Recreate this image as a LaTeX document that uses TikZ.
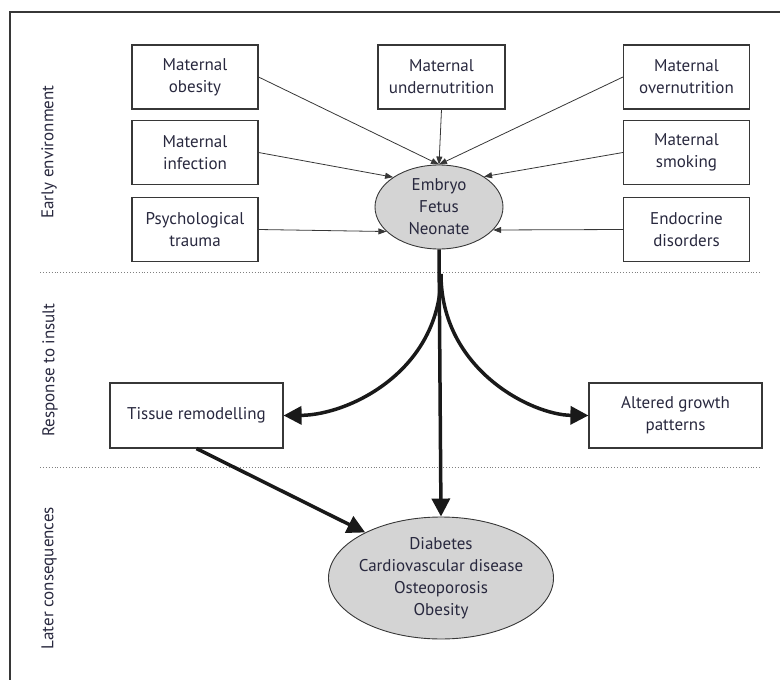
\documentclass[tikz,border=0pt]{standalone}
\usepackage{fontspec}
\setmainfont{PT Sans}
\usetikzlibrary{arrows.meta,shapes.geometric,positioning}
\definecolor{inkblue}{RGB}{40,40,62}
\definecolor{linegray}{RGB}{55,55,55}
\definecolor{blobgray}{RGB}{212,212,212}

\begin{document}
\begin{tikzpicture}
	[
		x=1pt, y=-1pt,
		font=\fontsize{17}{22}\selectfont,
		every node/.style={text=inkblue},
		factor/.style={draw=linegray, line width=1.1pt, align=center, minimum width=126pt, minimum height=64pt, inner sep=2pt},
		response/.style={factor, minimum width=173pt, minimum height=65pt},
		blob/.style={ellipse, draw=linegray, fill=blobgray, line width=0.9pt, inner sep=0pt},
		phase/.style={rotate=90},
		thinarrow/.style={-{Triangle[length=8pt,width=6pt]}, draw=linegray, line width=0.8pt},
		thickarrow/.style={-{Triangle[length=18pt,width=18pt]}, draw=black!90, line width=3.5pt},
		divider/.style={draw=gray, dotted, line width=0.9pt}
	]
	\useasboundingbox (0,0) rectangle (780,680);

	% frame and section dividers
	\draw[draw=linegray, line width=1.3pt] (10,680) -- (10,12) -- (780,12);
	\draw[divider] (40,272) -- (762,272);
	\draw[divider] (40,467) -- (762,467);

	% section labels
	\node[phase] (early) at ( 49, 152 ) {Early environment};
	\node[phase] (insult) at ( 50, 370 ) {Response to insult};
	\node[phase] (later) at ( 49, 578 ) {Later consequences};

	% early environment factors
	\node[factor] (obesity) at ( 195.0, 77.0 ) {Maternal\\obesity};
	\node[factor, minimum width=127pt] (under) at ( 441.5, 77.0 ) {Maternal\\undernutrition};
	\node[factor] (over) at ( 686.5, 77.0 ) {Maternal\\overnutrition};
	\node[factor] (infection) at ( 195.0, 152.5 ) {Maternal\\infection};
	\node[factor] (smoking) at ( 686.5, 152.5 ) {Maternal\\smoking};
	\node[factor] (trauma) at ( 195.0, 229.5 ) {Psychological\\trauma};
	\node[factor] (endocrine) at ( 686.5, 229.5 ) {Endocrine\\disorders};

	% embryo and outcomes
	\node[blob, minimum width=128pt, minimum height=84pt,
		label={[align=center]center:Embryo\\Fetus\\Neonate}] (fetus) at ( 439, 207 ) {};
	\node[response] (tissue) at ( 196.5, 415.5 ) {Tissue remodelling};
	\node[response] (growth) at ( 675.5, 415.5 ) {Altered growth\\patterns};
	\node[blob, minimum width=225pt, minimum height=122pt,
		label={[align=center]center:Diabetes\\Cardiovascular disease\\Osteoporosis\\Obesity}] (disease) at ( 441, 578 ) {};
	\coordinate (split) at ( 441, 274 );

	% insults
	\foreach \from/\to in {obesity.east/fetus.north, under.south/fetus.north, over.west/fetus.north,
		infection.east/fetus.147, smoking.west/fetus.34, trauma.east/fetus.205, endocrine.west/fetus.337}
	\draw[thinarrow] (\from) -- (\to);

	% responses
	\draw[thickarrow] (fetus.south) -- (disease.north);
	\draw[thickarrow] (split) .. controls (441,370) and (350,415) .. (tissue.east);
	\draw[thickarrow] (split) .. controls (441,370) and (532,415) .. (growth.west);
	\draw[thickarrow] (tissue.south) -- (disease.149);

\end{tikzpicture}
\end{document}
